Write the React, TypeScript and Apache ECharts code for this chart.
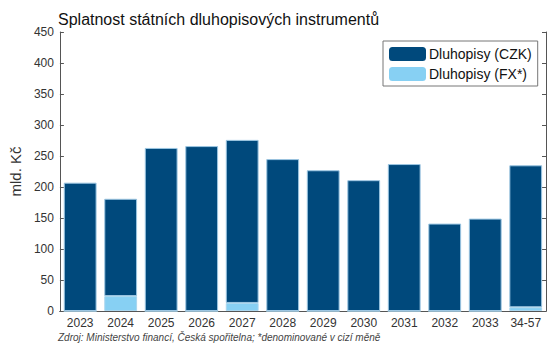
import React, { useEffect, useRef } from "react";
import * as echarts from "echarts";

const categories = ["2023", "2024", "2025", "2026", "2027", "2028", "2029", "2030", "2031", "2032", "2033", "34-57"];
const fxValues = [0, 24, 0, 0, 13, 0, 0, 0, 0, 0, 0, 6];
const czkValues = [207, 157, 263, 266, 263, 245, 227, 211, 237, 141, 149, 229];
const yTicks = { min: 0, max: 450, interval: 50 };

const DARK = "#00497c";
const LIGHT = "#87d0f3";
const FONT = "'Liberation Sans', Arial, sans-serif";

export default function App() {
  const ref = useRef<HTMLDivElement>(null);
  useEffect(() => {
    if (!ref.current) return;
    const chart = echarts.init(ref.current, null, { renderer: "svg" });
    const tickStyle = { color: "#555", width: 1 };
    chart.setOption({
      animation: false,
      textStyle: { fontFamily: FONT },
      title: {
        text: "Splatnost státních dluhopisových instrumentů",
        left: 58,
        top: 11,
        padding: 0,
        textStyle: { fontSize: 16, fontWeight: "normal", color: "#111", fontFamily: FONT },
      },
      graphic: [
        {
          type: "text",
          left: 58,
          top: 332,
          style: {
            text: "Zdroj: Ministerstvo financí, Česká spořitelna; *denominované v cizí měně",
            font: `italic 10px ${FONT}`,
            fill: "#444",
          },
        },
      ],
      legend: {
        orient: "vertical",
        left: 383,
        top: 41,
        padding: [6, 6, 5, 6],
        itemGap: 6,
        itemWidth: 37,
        itemHeight: 14,
        borderColor: "#777",
        borderWidth: 1,
        backgroundColor: "#fff",
        textStyle: { fontSize: 14, color: "#111", fontFamily: FONT, padding: [0, 0, 0, -2] },
        data: [
          { name: "Dluhopisy (CZK)", itemStyle: { color: DARK, borderWidth: 0 } },
          { name: "Dluhopisy (FX*)", itemStyle: { color: LIGHT, borderWidth: 0 } },
        ],
      },
      grid: { left: 58, right: 3, top: 32, bottom: 32, containLabel: false },
      xAxis: [
        {
          type: "category",
          data: categories,
          axisLine: { lineStyle: { color: "#555" } },
          axisTick: { show: false },
          axisLabel: { color: "#333", fontSize: 12, margin: 6, interval: 0 },
        },
        {
          type: "category",
          data: categories,
          position: "top",
          axisLine: { lineStyle: { color: "#555" } },
          axisTick: { inside: true, length: 4, alignWithLabel: true, lineStyle: tickStyle, interval: 0 },
          axisLabel: { show: false },
        },
      ],
      yAxis: [
        {
          type: "value",
          min: yTicks.min,
          max: yTicks.max,
          interval: yTicks.interval,
          name: "mld. Kč",
          nameLocation: "middle",
          nameGap: 34,
          nameTextStyle: { fontSize: 15, color: "#333", fontFamily: FONT },
          axisLine: { show: true, lineStyle: { color: "#555" } },
          axisTick: { show: true, inside: true, length: 4, lineStyle: tickStyle },
          axisLabel: { color: "#333", fontSize: 12, margin: 6 },
          splitLine: { show: false },
        },
        {
          type: "value",
          min: yTicks.min,
          max: yTicks.max,
          interval: yTicks.interval,
          position: "right",
          axisLine: { show: true, lineStyle: { color: "#555" } },
          axisTick: { show: true, inside: true, length: 4, lineStyle: tickStyle },
          axisLabel: { show: false },
          splitLine: { show: false },
        },
      ],
      series: [
        {
          name: "Dluhopisy (FX*)",
          type: "bar",
          stack: "total",
          data: fxValues,
          barCategoryGap: "19%",
          itemStyle: { color: LIGHT, borderColor: "#a9d6ee", borderWidth: 1 },
        },
        {
          name: "Dluhopisy (CZK)",
          type: "bar",
          stack: "total",
          data: czkValues,
          barCategoryGap: "19%",
          itemStyle: { color: DARK, borderColor: "#9cc6e2", borderWidth: 1 },
        },
      ],
    });
    return () => chart.dispose();
  }, []);
  return <div ref={ref} style={{ width: 549, height: 343, position: "absolute", left: 0, top: 0 }} />;
}
